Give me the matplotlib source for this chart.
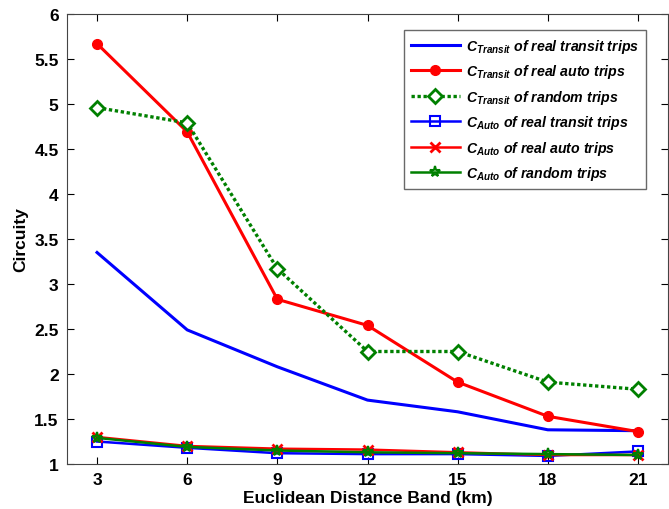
import numpy as np
import matplotlib
matplotlib.use("Agg")
import matplotlib.pyplot as plt

plt.rcParams['font.family'] = ['Liberation Sans', 'DejaVu Sans']
plt.rcParams['mathtext.fontset'] = 'custom'
plt.rcParams['mathtext.it'] = 'Liberation Sans:italic:bold'
plt.rcParams['mathtext.rm'] = 'Liberation Sans:bold'

# distance bands (km)
bands = [3, 6, 9, 12, 15, 18, 21]

# circuity values
ct_transit = [3.35, 2.49, 2.08, 1.71, 1.58, 1.38, 1.37]
ct_auto = [5.67, 4.69, 2.83, 2.54, 1.91, 1.53, 1.36]
ct_random = [4.96, 4.79, 3.17, 2.25, 2.25, 1.91, 1.83]
ca_transit = [1.25, 1.18, 1.12, 1.11, 1.11, 1.09, 1.14]
ca_auto = [1.30, 1.20, 1.17, 1.16, 1.13, 1.10, 1.10]
ca_random = [1.29, 1.19, 1.15, 1.13, 1.12, 1.11, 1.10]

labels = [r"$C_{Transit}$ of real transit trips",
          r"$C_{Transit}$ of real auto trips",
          r"$C_{Transit}$ of random trips",
          r"$C_{Auto}$ of real transit trips",
          r"$C_{Auto}$ of real auto trips",
          r"$C_{Auto}$ of random trips"]

fig = plt.figure(figsize=(6.69, 5.10), dpi=100)
ax = fig.add_axes([67/669, 45/510, 601/669, 450/510])

ax.plot(bands, ct_transit, '-', color='#0000ff', lw=2.2, label=labels[0])
ax.plot(bands, ct_auto, '-o', color='#ff0000', lw=2.2, ms=7, label=labels[1])
ax.plot(bands, ct_random, 'D', ls=(0, (1, 0.8)), color='#008000', lw=2.4,
        ms=7, mfc='white', mew=2, label=labels[2])
ax.plot(bands, ca_transit, '-s', color='#0000ff', lw=1.8, ms=7, mfc='none',
        mew=1.5, label=labels[3])
ax.plot(bands, ca_auto, '-x', color='#ff0000', lw=1.8, ms=7, mew=2,
        label=labels[4])
ax.plot(bands, ca_random, '-*', color='#008000', lw=1.8, ms=8, mfc='none',
        mew=1.5, label=labels[5])

ax.set_xlim(2, 22)
ax.set_ylim(1, 6)
ax.set_xticks(bands)
ax.set_yticks([1, 1.5, 2, 2.5, 3, 3.5, 4, 4.5, 5, 5.5, 6])
ax.set_yticklabels(['1', '1.5', '2', '2.5', '3', '3.5', '4', '4.5', '5', '5.5', '6'])
ax.tick_params(direction='in', top=True, right=True, labelsize=12.5,
               length=5, width=0.8, pad=6)
for lab in ax.get_xticklabels() + ax.get_yticklabels():
    lab.set_fontweight('bold')
for sp in ax.spines.values():
    sp.set_color('#444444')

ax.set_xlabel("Euclidean Distance Band (km)", fontsize=12.5, fontweight='bold',
              labelpad=2)
ax.set_ylabel("Circuity", fontsize=12.5, fontweight='bold', labelpad=4)

leg = ax.legend(loc='upper right', bbox_to_anchor=(646/669, 1 - 31/510),
                bbox_transform=fig.transFigure, fancybox=False,
                prop={'size': 10.2, 'weight': 'bold', 'style': 'italic'},
                handlelength=3.5, handletextpad=0.4, labelspacing=0.52,
                borderpad=0.5, borderaxespad=0)
leg.get_frame().set_edgecolor('#444444')
leg.get_frame().set_linewidth(1.0)

fig.savefig("out.png", dpi=100)
